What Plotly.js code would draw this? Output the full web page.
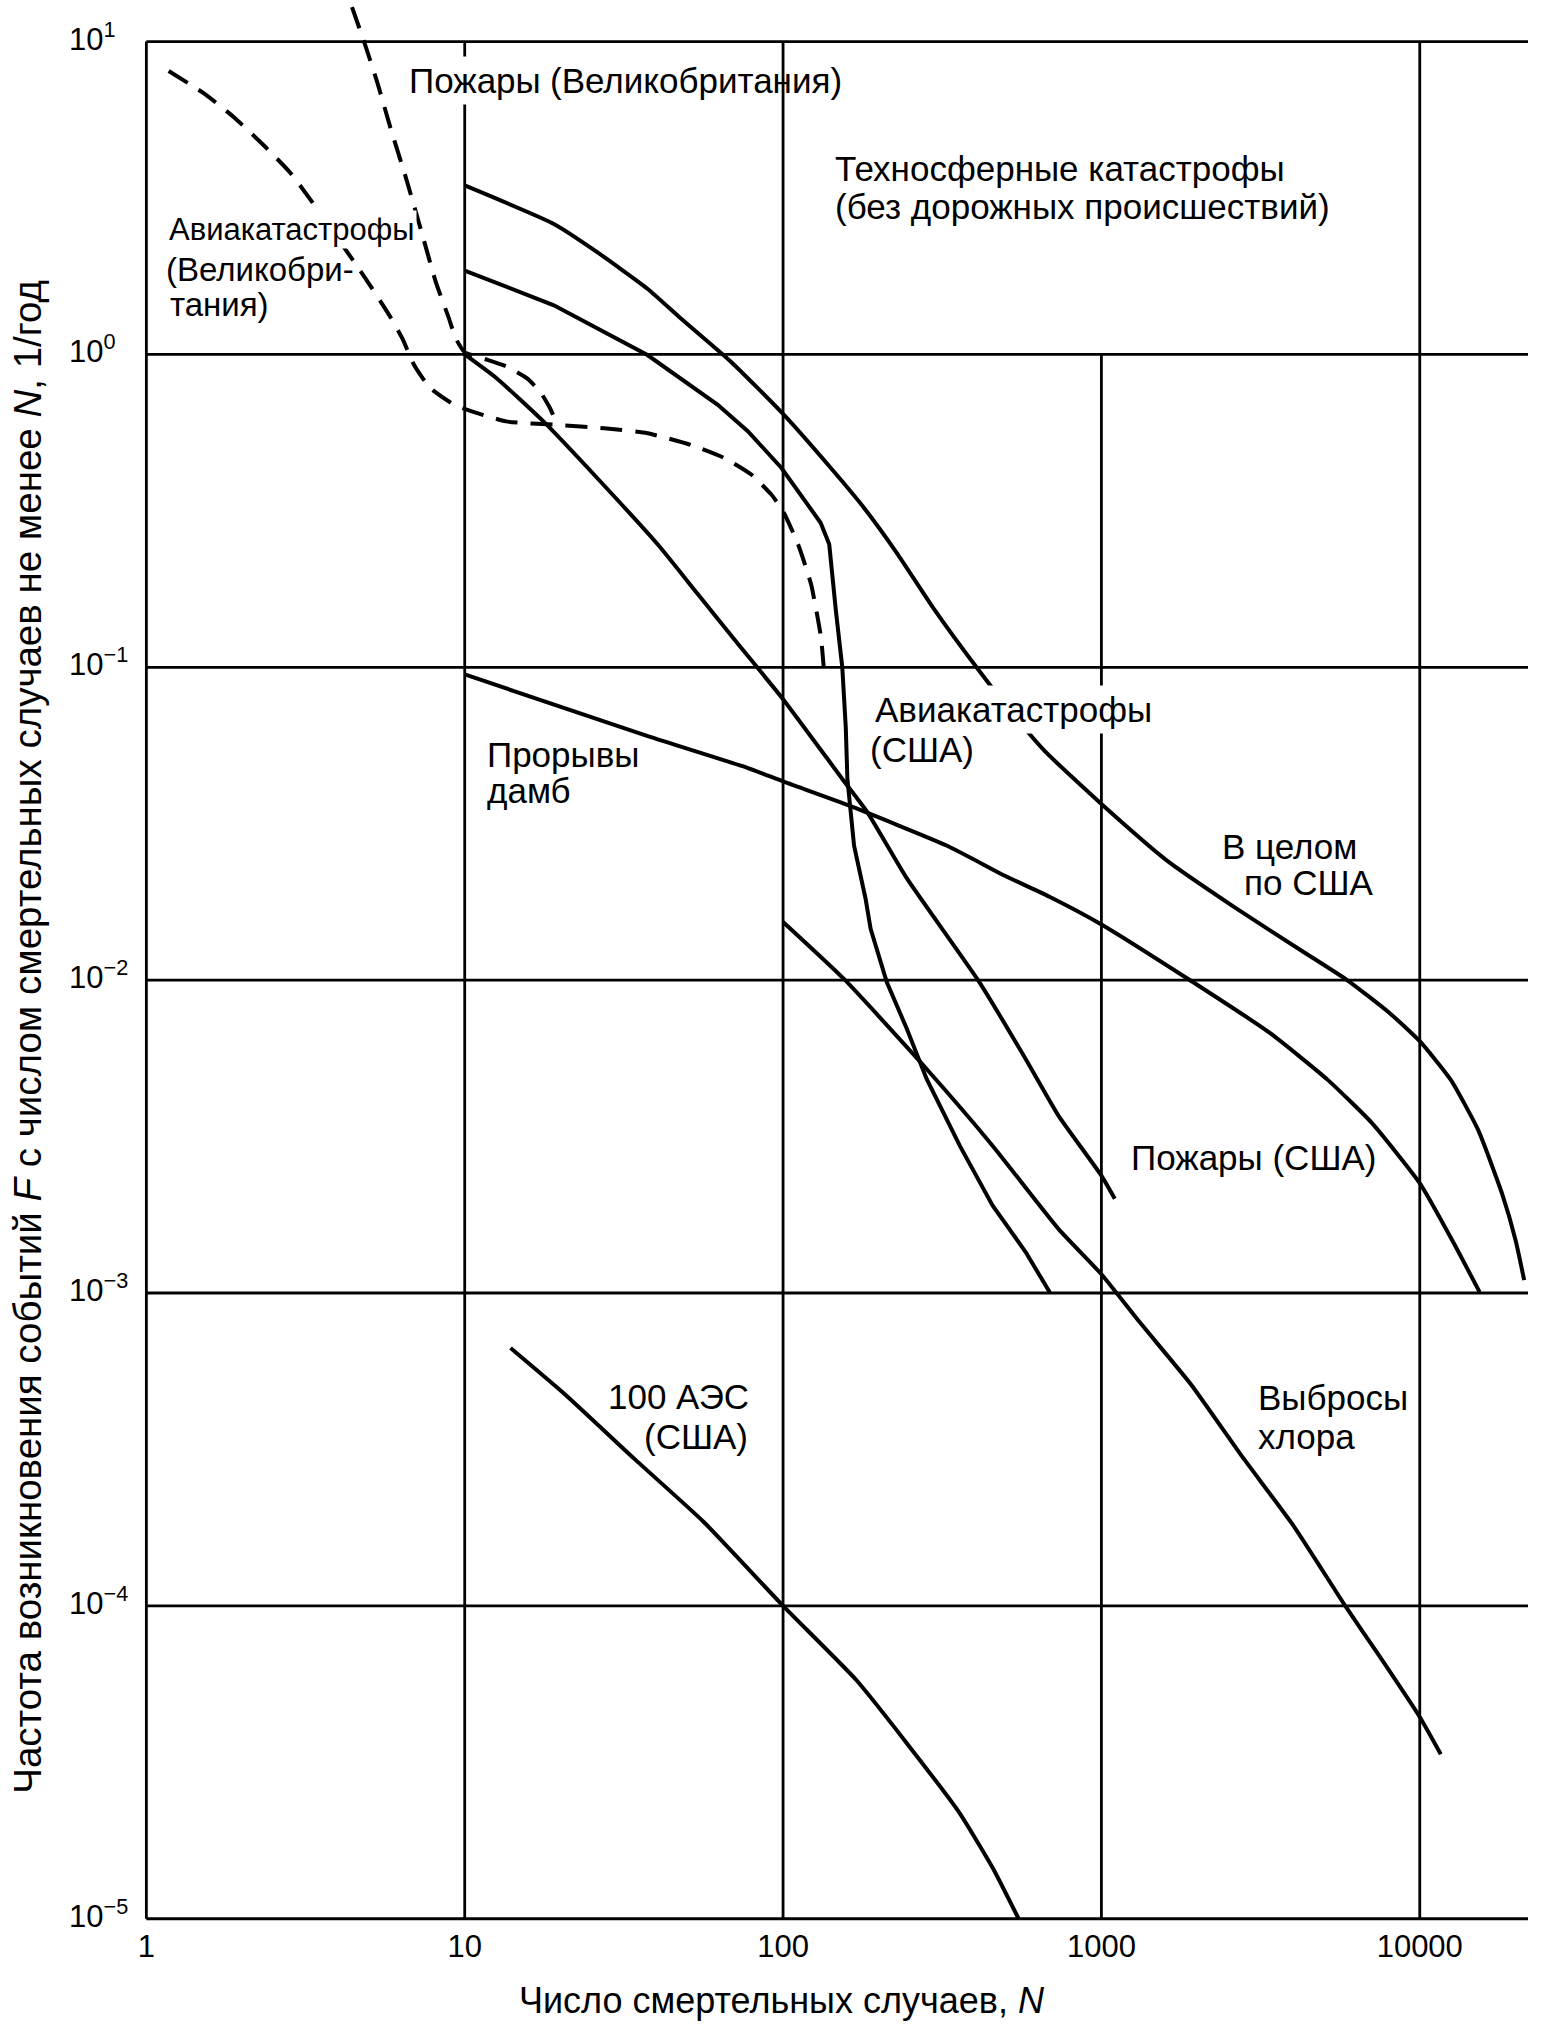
<!DOCTYPE html>
<html>
<head>
<meta charset="utf-8">
<script src="https://cdn.plot.ly/plotly-3.0.1.min.js"></script>
<style>
  body { margin: 0; background: #fff; }
  #graph { width: 1543px; height: 2035px; }
</style>
</head>
<body>
<div id="graph"></div>
<script>

// Техносферные катастрофы / в целом по США
const technoN = [1.0, 1.28, 1.416, 1.574, 1.679, 1.837, 2.0, 2.15, 2.254, 2.357, 2.471, 2.616, 2.74, 2.823, 3.0, 3.206, 3.421, 3.635, 3.775, 3.904, 4.0, 4.097, 4.183, 4.258, 4.301, 4.328];
const technoF = [0.54, 0.417, 0.327, 0.21, 0.115, -0.024, -0.19, -0.363, -0.49, -0.634, -0.809, -1.011, -1.172, -1.269, -1.437, -1.618, -1.769, -1.91, -2.002, -2.104, -2.195, -2.318, -2.478, -2.681, -2.831, -2.959];

// Авиакатастрофы (США)
const airUsN = [1.0, 1.28, 1.574, 1.795, 1.89, 1.995, 2.118, 2.145, 2.166, 2.186, 2.197, 2.202, 2.223, 2.259, 2.275, 2.326, 2.389, 2.451, 2.555, 2.658, 2.762, 2.839];
const airUsF = [0.268, 0.157, -0.002, -0.161, -0.246, -0.363, -0.538, -0.607, -0.82, -1.0, -1.193, -1.355, -1.57, -1.739, -1.836, -2.007, -2.156, -2.316, -2.529, -2.72, -2.869, -3.0];

// Пожары (США)
const firesUsN = [1.0, 1.1, 1.248, 1.416, 1.606, 1.732, 1.858, 2.0, 2.192, 2.264, 2.389, 2.617, 2.762, 2.865, 3.0, 3.042];
const firesUsF = [0.0, -0.076, -0.215, -0.395, -0.607, -0.766, -0.925, -1.102, -1.365, -1.462, -1.675, -2.007, -2.252, -2.433, -2.625, -2.699];

// Прорывы дамб
const damsN = [1.0, 1.575, 1.89, 2.0, 2.202, 2.512, 2.7, 2.84, 3.0, 3.281, 3.528, 3.71, 3.85, 4.0, 4.107, 4.188];
const damsF = [-1.023, -1.22, -1.322, -1.365, -1.44, -1.569, -1.668, -1.735, -1.822, -2.002, -2.168, -2.318, -2.457, -2.649, -2.841, -2.997];

// Выбросы хлора
const chlorineN = [2.0, 2.192, 2.451, 2.658, 2.865, 3.0, 3.12, 3.282, 3.443, 3.604, 3.766, 3.873, 4.0, 4.066];
const chlorineF = [-1.814, -1.997, -2.284, -2.529, -2.795, -2.94, -3.093, -3.293, -3.524, -3.745, -4.0, -4.16, -4.355, -4.474];

// 100 АЭС (США)
const nppN = [1.144, 1.317, 1.534, 1.75, 2.0, 2.23, 2.391, 2.553, 2.66, 2.74];
const nppF = [-3.176, -3.326, -3.531, -3.731, -4.0, -4.237, -4.442, -4.66, -4.84, -5.0];

// Авиакатастрофы (Великобритания), dashed
const airUkN = [0.07, 0.18, 0.275, 0.37, 0.45, 0.513, 0.687, 0.767, 0.804, 0.841, 0.892, 0.973, 1.13, 1.29, 1.438, 1.574, 1.71, 1.815, 1.9, 1.963, 2.0, 2.047, 2.088, 2.119, 2.13];
const airUkF = [0.906, 0.835, 0.758, 0.667, 0.583, 0.498, 0.245, 0.119, 0.051, -0.034, -0.108, -0.164, -0.214, -0.225, -0.236, -0.252, -0.289, -0.331, -0.384, -0.448, -0.501, -0.607, -0.735, -0.904, -1.03];

// Пожары (Великобритания), dashed
const firesUkN = [0.646, 0.687, 0.727, 0.767, 0.814, 0.862, 0.909, 0.949, 0.973, 1.0, 1.058, 1.132, 1.195, 1.237, 1.268, 1.289];
const firesUkF = [1.11, 0.99, 0.864, 0.723, 0.569, 0.40, 0.232, 0.119, 0.049, 0.007, -0.013, -0.039, -0.076, -0.119, -0.172, -0.22];

// axes
const xTicks = [1, 10, 100, 1000, 10000];
const xTickText = ["1", "10", "100", "1000", "10000"];
const xGridTop = [10, 10, 10, 1, 10];   // the 1000 line stops at 10^0
const yTicks = [1e-5, 1e-4, 1e-3, 1e-2, 1e-1, 1, 10];
const yTickExp = ["\u22125", "\u22124", "\u22123", "\u22122", "\u22121", "0", "1"];

const xRange = [-0.02, 4.34];
const yRange = [-5.02, 1.12];
const FONT = "Liberation Sans, Arial, sans-serif";

function pow10(arr) {
    return arr.map(v => Math.pow(10, v));
}

function curve(n, f, dashed, shape) {
    return {
        x: pow10(n),
        y: pow10(f),
        mode: 'lines',
        hoverinfo: 'skip',
        line: {
            color: '#000',
            width: 4,
            dash: dashed ? '22px,13px' : 'solid',
            shape: shape || 'spline',
            smoothing: 0.5,
        },
    };
}

function gridTrace() {
    var gx = [], gy = [];
    xTicks.forEach(function (t, i) {
        gx.push(t, t, null);
        gy.push(yTicks[0], xGridTop[i], null);
    });
    var xEnd = Math.pow(10, xRange[1]);
    yTicks.forEach(function (t) {
        gx.push(xTicks[0], xEnd, null);
        gy.push(t, t, null);
    });
    return {
        x: gx, y: gy,
        mode: 'lines',
        hoverinfo: 'skip',
        line: { color: '#000', width: 2.8 },
    };
}

function label(text, lx, ly, opts) {
    return Object.assign({
        text: text,
        x: lx, y: ly,
        xref: 'x', yref: 'y',
        xanchor: 'left', yanchor: 'middle',
        showarrow: false,
        font: { family: FONT, size: 35, color: '#000' },
    }, opts || {});
}

var traces = [
    gridTrace(),
    curve(technoN, technoF),
    curve(airUsN, airUsF, false, 'linear'),
    curve(firesUsN, firesUsF),
    curve(damsN, damsF),
    curve(chlorineN, chlorineF),
    curve(nppN, nppF),
    curve(airUkN, airUkF, true),
    curve(firesUkN, firesUkF, true),
];

var ukFont = { family: FONT, size: 33, color: '#000' };

var annotations = [
    label("Пожары", 0.809, 0.877, { bgcolor: '#fff', borderpad: 4 }),
    label("(Великобритания)", 1.262, 0.877),
    label("Техносферные катастрофы", 2.157, 0.594),
    label("(без дорожных происшествий)", 2.157, 0.472),
    label("Авиакатастрофы", 0.065, 0.398, { bgcolor: '#fff', borderpad: 1, font: { family: FONT, size: 31, color: '#000' } }),
    label("(Великобри-", 0.056, 0.270, { font: ukFont }),
    label("тания)", 0.068, 0.161, { font: ukFont }),
    label("Прорывы", 1.064, -1.280),
    label("дамб", 1.064, -1.395),
    label("Авиакатастрофы", 2.273, -1.136, { bgcolor: '#fff', borderpad: 4 }),
    label("(США)", 2.267, -1.264),
    label("В целом", 3.372, -1.574),
    label("по США", 3.441, -1.689),
    label("Пожары (США)", 3.087, -2.568),
    label("Выбросы", 3.485, -3.335),
    label("хлора", 3.485, -3.459),
    label("100 АЭС", 1.899, -3.332, { xanchor: 'right' }),
    label("(США)", 1.896, -3.459, { xanchor: 'right' }),
];

// y tick labels, left-aligned as in the print
yTicks.forEach(function (t, i) {
    annotations.push({
        text: "10<sup>" + yTickExp[i] + "</sup>",
        x: 0, xref: 'paper', xanchor: 'left', xshift: -73,
        y: Math.log10(t), yref: 'y', yanchor: 'middle', yshift: 5,
        showarrow: false,
        font: { family: FONT, size: 31, color: '#000' },
    });
});

// axis titles
annotations.push({
    text: "Число смертельных случаев, <i>N</i>",
    x: 0.4625, xref: 'paper', xanchor: 'center',
    y: 0, yref: 'paper', yanchor: 'middle', yshift: -75,
    showarrow: false,
    font: { family: FONT, size: 36, color: '#000' },
});
annotations.push({
    text: "Частота возникновения событий <i>F</i> с числом смертельных случаев не менее <i>N</i>, 1/год",
    x: 0, xref: 'paper', xanchor: 'center', xshift: -112,
    y: 0.4624, yref: 'paper', yanchor: 'middle',
    textangle: -90,
    showarrow: false,
    font: { family: FONT, size: 38.5, color: '#000' },
});

var layout = {
    width: 1543,
    height: 2035,
    margin: { l: 140, r: 15, t: 4, b: 110 },
    paper_bgcolor: '#fff',
    plot_bgcolor: '#fff',
    showlegend: false,
    xaxis: {
        type: 'log',
        range: xRange,
        showgrid: false,
        zeroline: false,
        showline: false,
        ticks: '',
        tickvals: xTicks,
        ticktext: xTickText,
        tickfont: { family: FONT, size: 31, color: '#000' },
    },
    yaxis: {
        type: 'log',
        range: yRange,
        showgrid: false,
        zeroline: false,
        showline: false,
        showticklabels: false,
        ticks: '',
    },
    annotations: annotations,
};

Plotly.newPlot('graph', traces, layout, { displayModeBar: false, staticPlot: true });
</script>
</body>
</html>
